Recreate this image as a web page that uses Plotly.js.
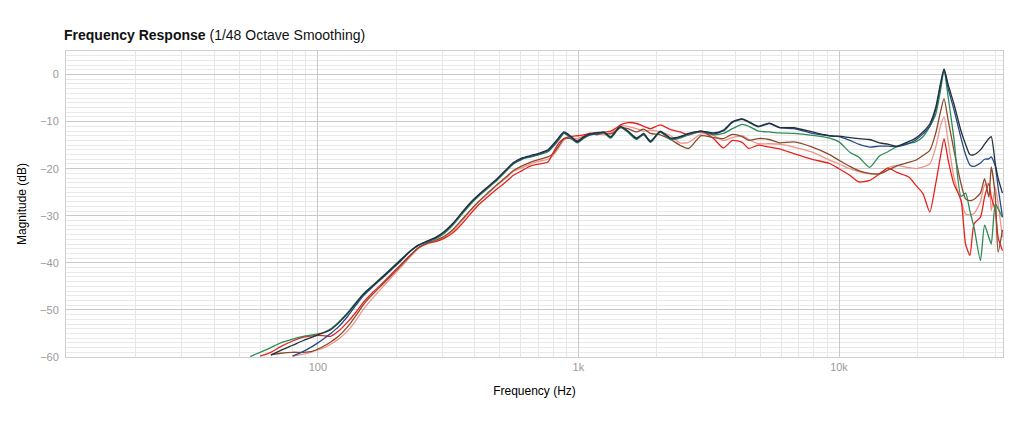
<!DOCTYPE html>
<html>
<head>
<meta charset="utf-8">
<script src="https://cdn.plot.ly/plotly-3.0.1.min.js"></script>
<style>
  html, body { margin: 0; padding: 0; background: #fff; }
  #chart { width: 1024px; height: 427px; }
</style>
</head>
<body>
<div id="chart"></div>
<script>
// Frequencies (Hz) shared by all six measurements
const freqs = [
  55, 60, 66, 72, 80, 88, 95, 100, 106, 112,
  120, 130, 140, 150, 163, 177, 192, 208, 225, 243,
  262, 283, 305, 330, 356, 385, 415, 448, 484, 522,
  563, 608, 656, 708, 764, 800, 840, 880, 930, 990,
  1050, 1110, 1180, 1250, 1330, 1410, 1450, 1550, 1670, 1780,
  1890, 2060, 2260, 2450, 2650, 2960, 3300, 3600, 3900, 4250,
  4500, 4900, 5400, 5900, 6700, 7900, 9200, 10000, 11000, 11900,
  13100, 14300, 15400, 16700, 18600, 19700, 21000, 22300, 23500, 24500,
  25300, 26200, 27600, 29400, 30600, 31800, 33000, 34900, 36200, 37600,
  38400, 39800, 40800, 42400
];

// Magnitude (dB)
const magBlack = [
  null, null, -59.6, -58.6, -57.5, -56.5, -55.8, -55.3, -54.8, -54.2,
  -52.8, -50.8, -48.6, -46.6, -44.8, -43.0, -41.2, -39.4, -37.6, -36.2,
  -35.4, -34.6, -33.4, -31.6, -29.4, -27.2, -25.5, -23.9, -22.3, -20.5,
  -18.7, -17.7, -17.2, -16.7, -16.0, -14.8, -13.4, -12.2, -13.0, -14.2,
  -13.2, -12.6, -12.4, -12.2, -13.3, -11.6, -11.0, -12.0, -13.6, -12.5,
  -14.3, -12.0, -13.5, -13.2, -12.5, -12.0, -12.4, -11.8, -10.0, -9.4,
  -10.0, -11.0, -10.3, -11.2, -11.3, -12.2, -13.0, -13.1, -13.4, -13.6,
  -13.8, -14.5, -14.8, -15.2, -14.2, -13.5, -12.2, -10.5, -7.0, -2.0,
  1.2, -2.0, -6.2, -12.0, -14.8, -17.0, -17.0, -16.0, -14.8, -13.6,
  -13.2, -19.0, -22.0, -25.2
];
const magNavy = [
  null, null, null, null, -59.8, -58.8, -57.8, -57.0, -56.0, -55.0,
  -53.6, -51.4, -49.0, -46.9, -45.0, -43.2, -41.4, -39.6, -37.7, -36.3,
  -35.5, -34.7, -33.5, -31.7, -29.5, -27.3, -25.6, -24.0, -22.4, -20.6,
  -18.9, -17.9, -17.4, -16.9, -16.2, -15.1, -13.7, -12.4, -13.2, -14.4,
  -13.4, -12.8, -12.6, -12.3, -13.2, -11.7, -11.1, -12.1, -13.4, -12.7,
  -14.1, -12.2, -13.6, -13.3, -12.6, -12.1, -12.6, -12.0, -10.2, -9.5,
  -10.1, -11.1, -10.4, -11.3, -11.5, -12.5, -13.0, -13.2, -14.0, -14.8,
  -15.4, -15.2, -15.2, -15.3, -14.6, -13.9, -12.6, -11.0, -7.5, -2.5,
  1.0, -2.8, -7.4, -13.5, -17.0, -19.2, -19.5, -18.8, -18.0, -17.9,
  -17.5, -19.5, -24.0, -30.3
];
const magGreen = [
  -59.9, -59.0, -58.0, -57.0, -56.2, -55.6, -55.3, -55.1, -54.7, -54.0,
  -52.6, -50.6, -48.4, -46.5, -44.7, -42.9, -41.1, -39.3, -37.6, -36.3,
  -35.6, -34.9, -33.8, -32.0, -29.8, -27.6, -25.8, -24.2, -22.6, -20.8,
  -19.0, -18.0, -17.5, -17.0, -16.4, -15.3, -13.9, -12.5, -13.4, -14.5,
  -13.5, -12.8, -12.7, -12.4, -13.5, -11.8, -11.2, -12.3, -13.8, -12.8,
  -14.4, -12.3, -13.8, -13.5, -12.8, -12.2, -12.8, -12.5, -11.5, -10.6,
  -11.0, -12.0, -12.2, -12.4, -12.5, -12.9, -13.5, -14.3, -16.5, -17.5,
  -19.7, -17.3, -16.4, -15.3, -14.6, -14.3, -13.2, -11.0, -8.5, -3.5,
  0.9, -4.5, -13.5, -25.9, -25.2, -29.0, -32.5, -39.5, -32.0, -34.6,
  -36.0, -27.5, -28.5, -30.3
];
const magBrown = [
  null, null, -59.5, -59.2, -59.0, -59.0, -58.8, -58.3, -57.6, -56.8,
  -55.6, -53.6, -51.2, -48.8, -46.6, -44.6, -42.6, -40.6, -38.6, -36.8,
  -35.8, -35.2, -34.4, -32.9, -30.9, -28.8, -26.9, -25.2, -23.5, -22.0,
  -20.4, -19.4, -18.6, -18.0, -17.5, -16.8, -15.2, -13.6, -13.6, -14.0,
  -13.2, -12.6, -12.3, -12.4, -12.6, -11.8, -11.3, -11.5, -12.2, -11.6,
  -12.5, -12.8, -13.8, -15.0, -15.7, -13.0, -13.4, -13.6, -12.7, -13.2,
  -14.0, -13.6, -13.8, -14.5, -14.3, -15.4, -17.0, -18.2, -19.5, -20.4,
  -21.0, -21.1, -20.3, -19.4, -18.6, -18.2, -17.2, -16.1, -12.5, -8.0,
  -5.1, -9.5, -16.0, -23.2, -26.4, -26.8, -26.5, -25.2, -22.1, -26.0,
  -19.6, -26.0, -37.7, -33.0
];
const magSalmon = [
  null, null, null, null, -59.8, -59.4, -58.9, -58.5, -58.0, -57.3,
  -56.2, -54.5, -52.2, -49.8, -47.4, -45.2, -43.0, -41.0, -38.9, -37.0,
  -36.0, -35.4, -34.6, -33.2, -31.2, -29.0, -27.0, -25.4, -23.6, -22.2,
  -20.6, -19.8, -19.0, -18.4, -18.0, -17.2, -15.6, -13.9, -13.4, -13.6,
  -13.0, -12.4, -12.6, -12.8, -12.4, -11.4, -10.9, -11.0, -11.5, -12.0,
  -11.8, -12.2, -13.0, -14.5, -14.4, -12.6, -13.0, -14.0, -13.4, -13.0,
  -13.8, -14.7, -14.7, -14.8, -15.4, -16.5, -18.2, -19.0, -20.0, -20.6,
  -21.1, -21.0, -19.8, -19.3, -19.8, -20.0, -19.6, -19.0, -15.5, -11.0,
  -9.0, -14.0, -21.8, -26.9, -29.6, -29.8, -29.5, -27.0, -23.5, -23.2,
  -28.9, -23.9, -27.5, -34.6
];
const magRed = [
  null, -59.8, -59.0, -57.8, -56.6, -55.8, -55.5, -55.4, -55.5, -55.6,
  -54.5, -52.6, -50.5, -48.3, -46.2, -44.3, -42.3, -40.4, -38.5, -36.8,
  -35.9, -35.5, -34.8, -33.6, -31.8, -29.6, -27.6, -26.0, -24.4, -23.0,
  -21.4, -20.4, -19.4, -19.0, -18.6, -16.6, -14.6, -13.6, -13.2, -13.0,
  -12.8, -12.5, -12.8, -12.3, -12.0, -11.2, -10.7, -10.2, -10.4, -11.0,
  -11.5, -10.7, -11.7, -12.2, -12.8, -12.0, -13.6, -15.6, -14.0, -14.4,
  -15.7, -15.0, -15.4, -15.8, -16.8, -18.0, -18.9, -20.0, -21.4, -22.8,
  -22.5, -21.1, -19.9, -20.8, -21.8, -23.5, -25.3, -29.2, -23.2, -17.5,
  -13.6, -18.0, -23.2, -26.7, -36.0, -38.4, -31.7, -30.3, -26.0, -23.2,
  -26.0, -28.9, -34.6, -37.4
];

const series = [
  { name: 'Measurement 1', y: magSalmon, color: '#f2938a' },
  { name: 'Measurement 2', y: magRed, color: '#e5231d' },
  { name: 'Measurement 3', y: magBrown, color: '#8a4b2c' },
  { name: 'Measurement 4', y: magGreen, color: '#2e8b57' },
  { name: 'Measurement 5', y: magNavy, color: '#264a86' },
  { name: 'Measurement 6', y: magBlack, color: '#22303a' }
];

const traces = series.map(s => ({
  x: freqs,
  y: s.y,
  type: 'scatter',
  mode: 'lines',
  name: s.name,
  line: { color: s.color, width: 1.3, shape: 'spline', smoothing: 0.6 },
  connectgaps: false,
  showlegend: false,
  hoverinfo: 'skip'
}));

const layout = {
  width: 1024,
  height: 427,
  margin: { t: 51, r: 21, b: 70, l: 66 },
  paper_bgcolor: 'white',
  plot_bgcolor: 'white',
  font: { family: 'Liberation Sans, Arial, sans-serif', color: '#000' },
  title: {
    text: '<b>Frequency Response</b> (1/48 Octave Smoothing)',
    font: { size: 14, color: '#111' },
    xref: 'container', x: 0.0625, xanchor: 'left',
    yref: 'container', y: 0.918, yanchor: 'middle'
  },
  xaxis: {
    type: 'log',
    range: [Math.log10(10.8), Math.log10(42600)],
    tickmode: 'linear', tick0: 0, dtick: 1,
    tickformat: '~s',
    tickfont: { size: 11, color: '#9a9a9a' },
    gridcolor: '#c9c9c9',
    gridwidth: 1,
    minor: { dtick: 'D1', showgrid: true, gridcolor: '#e6e6e6', ticklen: 0 },
    showline: true, linecolor: '#cfcfcf', mirror: true,
    zeroline: false,
    ticks: '',
    title: { text: 'Frequency (Hz)', font: { size: 12, color: '#000' }, standoff: 14 }
  },
  yaxis: {
    range: [-60, 5],
    tickmode: 'linear', tick0: 0, dtick: 10,
    tickfont: { size: 11, color: '#9a9a9a' },
    gridcolor: '#c9c9c9',
    minor: { dtick: 1, showgrid: true, gridcolor: '#e9e9e9', ticklen: 0 },
    showline: true, linecolor: '#cfcfcf', mirror: true,
    zeroline: false,
    ticks: '',
    ticklabelstandoff: 4,
    title: { text: 'Magnitude (dB)', font: { size: 12, color: '#000' }, standoff: 10 }
  }
};

Plotly.newPlot('chart', traces, layout, { displayModeBar: false, staticPlot: true });
</script>
</body>
</html>
